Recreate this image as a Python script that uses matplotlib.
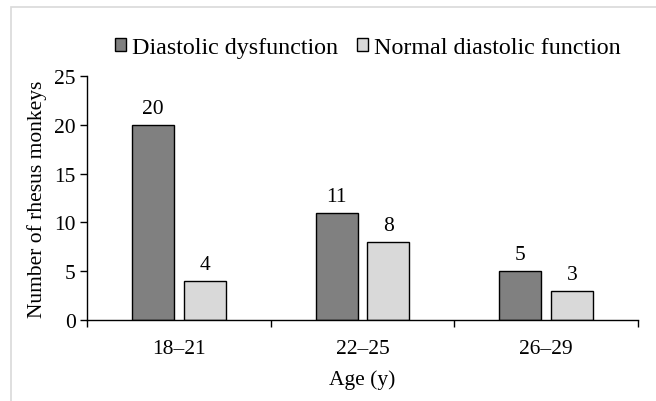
import numpy as np
import matplotlib
matplotlib.use('Agg')
import matplotlib.pyplot as plt
from matplotlib.patches import Rectangle

plt.rcParams['font.family'] = ['Liberation Serif', 'DejaVu Serif']

age_groups = ['18\u201321', '22\u201325', '26\u201329']
dysfunction = [20, 11, 5]
normal = [4, 8, 3]
series_names = ['Diastolic dysfunction', 'Normal diastolic function']

fs = 15.5

fig = plt.figure(figsize=(6.56, 4.02), dpi=100)
# light frame around the chart area (only top/left visible in the original)
fig.patches.append(Rectangle((11/656, -0.05), 1.2, 1 - 8/402 + 0.05,
                             transform=fig.transFigure, fill=False,
                             edgecolor='#d9d9d9', linewidth=1.2))

ax = fig.add_axes([87/656, 1 - 321/402, (638 - 87)/656, (321 - 77)/402])

x = np.arange(len(age_groups))
w = 0.228
off = 0.141
b1 = ax.bar(x - off, dysfunction, w, color='#808080', edgecolor='black',
            linewidth=1, label=series_names[0])
b2 = ax.bar(x + off, normal, w, color='#d9d9d9', edgecolor='black',
            linewidth=1, label=series_names[1])
ax.bar_label(b1, padding=5, fontsize=fs)
ax.bar_label(b2, padding=5, fontsize=fs)

ax.set_xlim(-0.5, len(age_groups) - 0.5)
ax.set_ylim(0, 25)
ax.set_yticks(range(0, 26, 5))
ax.set_xticks(x)
ax.set_xticklabels(age_groups)
ax.set_xticks(np.arange(-0.5, len(age_groups)), minor=True)
ax.tick_params(axis='x', which='major', length=0, pad=14, labelsize=fs)
ax.tick_params(axis='x', which='minor', length=5, width=1, direction='out')
ax.tick_params(axis='y', length=5, width=1, labelsize=fs, pad=3)

for s in ['top', 'right']:
    ax.spines[s].set_visible(False)
for s in ['left', 'bottom']:
    ax.spines[s].set_linewidth(1)

ax.set_xlabel('Age (y)', fontsize=fs, labelpad=8)
ax.set_ylabel('Number of rhesus monkeys', fontsize=fs, labelpad=5)

ax.legend(loc='center', bbox_to_anchor=(0.51, 1.115), ncol=2, frameon=False,
          fontsize=17.3, handlelength=0.46, handleheight=0.46,
          handletextpad=0.25, columnspacing=0.8, borderaxespad=0)

fig.savefig('out.png', dpi=100)
